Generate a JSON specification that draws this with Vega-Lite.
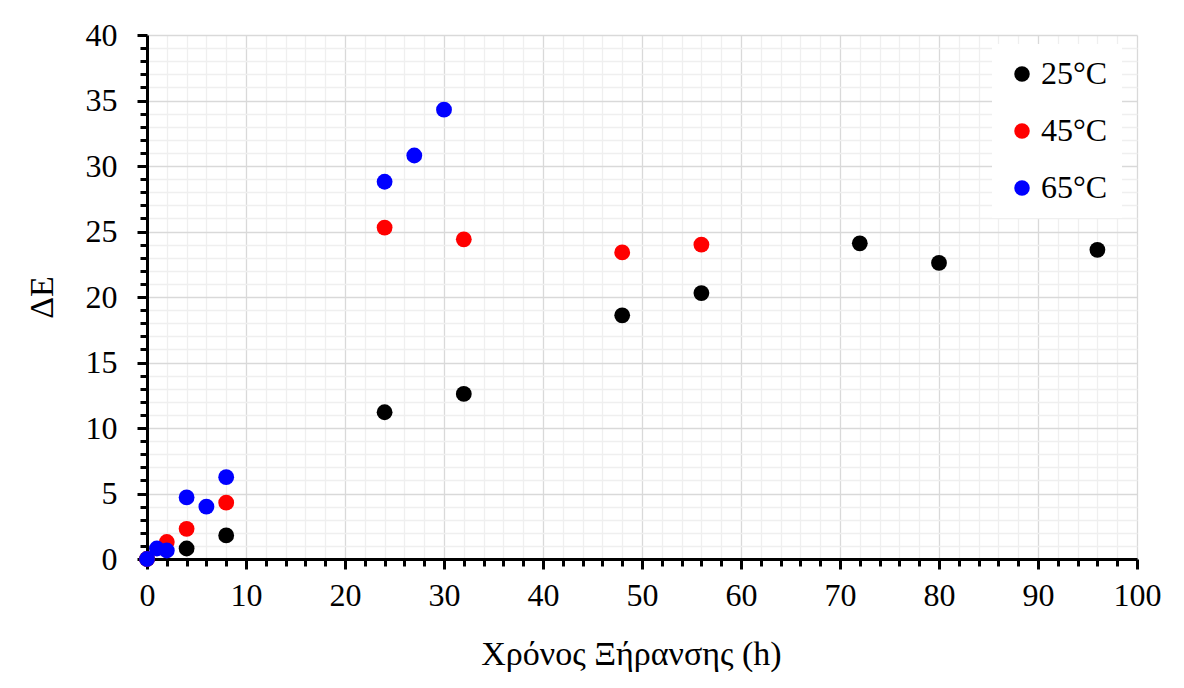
{
  "$schema": "https://vega.github.io/schema/vega-lite/v6.json",
  "autosize": "none",
  "width": 990,
  "height": 524,
  "padding": {"left": 147, "top": 35, "right": 47, "bottom": 129},
  "background": "white",
  "config": {
    "font": "Liberation Serif",
    "view": {"stroke": null},
    "axis": {
      "domainColor": "black",
      "domainWidth": 3,
      "tickColor": "black",
      "tickWidth": 3,
      "labelFont": "Liberation Serif",
      "labelFontSize": 32,
      "labelColor": "black",
      "titleFont": "Liberation Serif",
      "titleFontSize": 34,
      "titleFontWeight": "normal",
      "titleColor": "black",
      "gridWidth": 1.3
    }
  },
  "data": {
    "values": [
      {"t": 0, "dE": 0, "T": "25°C"},
      {"t": 4, "dE": 0.8, "T": "25°C"},
      {"t": 8, "dE": 1.8, "T": "25°C"},
      {"t": 24, "dE": 11.2, "T": "25°C"},
      {"t": 32, "dE": 12.6, "T": "25°C"},
      {"t": 48, "dE": 18.6, "T": "25°C"},
      {"t": 56, "dE": 20.3, "T": "25°C"},
      {"t": 72, "dE": 24.1, "T": "25°C"},
      {"t": 80, "dE": 22.6, "T": "25°C"},
      {"t": 96, "dE": 23.6, "T": "25°C"},
      {"t": 0, "dE": 0, "T": "45°C"},
      {"t": 2, "dE": 1.3, "T": "45°C"},
      {"t": 4, "dE": 2.3, "T": "45°C"},
      {"t": 8, "dE": 4.3, "T": "45°C"},
      {"t": 24, "dE": 25.3, "T": "45°C"},
      {"t": 32, "dE": 24.4, "T": "45°C"},
      {"t": 48, "dE": 23.4, "T": "45°C"},
      {"t": 56, "dE": 24.0, "T": "45°C"},
      {"t": 0, "dE": 0, "T": "65°C"},
      {"t": 1, "dE": 0.8, "T": "65°C"},
      {"t": 2, "dE": 0.65, "T": "65°C"},
      {"t": 4, "dE": 4.7, "T": "65°C"},
      {"t": 6, "dE": 4.0, "T": "65°C"},
      {"t": 8, "dE": 6.25, "T": "65°C"},
      {"t": 24, "dE": 28.8, "T": "65°C"},
      {"t": 27, "dE": 30.8, "T": "65°C"},
      {"t": 30, "dE": 34.3, "T": "65°C"}
    ]
  },
  "mark": {"type": "circle", "size": 250, "opacity": 1},
  "encoding": {
    "x": {
      "field": "t",
      "type": "quantitative",
      "scale": {"domain": [0, 100], "nice": false, "zero": true},
      "axis": {
        "title": "Χρόνος Ξήρανσης (h)",
        "titleX": 484,
        "titleAlign": "center",
        "values": [0,2,4,6,8,10,12,14,16,18,20,22,24,26,28,30,32,34,36,38,40,42,44,46,48,50,52,54,56,58,60,62,64,66,68,70,72,74,76,78,80,82,84,86,88,90,92,94,96,98,100],
        "labelExpr": "datum.value % 10 === 0 ? datum.label : ''",
        "labelOverlap": false,
        "labelFlush": false,
        "labelPadding": 11,
        "titlePadding": 26,
        "tickSize": {"condition": {"test": "datum.value % 10 === 0", "value": 10}, "value": 7},
        "gridColor": {"condition": {"test": "datum.value % 10 === 0", "value": "#d9d9d9"}, "value": "#efefef"}
      }
    },
    "y": {
      "field": "dE",
      "type": "quantitative",
      "scale": {"domain": [0, 40], "nice": false},
      "axis": {
        "title": "ΔE",
        "values": [0,1,2,3,4,5,6,7,8,9,10,11,12,13,14,15,16,17,18,19,20,21,22,23,24,25,26,27,28,29,30,31,32,33,34,35,36,37,38,39,40],
        "labelExpr": "datum.value % 5 === 0 ? datum.label : ''",
        "labelOverlap": false,
        "labelFlush": false,
        "labelPadding": 20,
        "titlePadding": 26,
        "tickSize": {"condition": {"test": "datum.value % 5 === 0", "value": 10}, "value": 7},
        "gridColor": {"condition": {"test": "datum.value % 5 === 0", "value": "#d9d9d9"}, "value": "#efefef"}
      }
    },
    "color": {
      "field": "T",
      "type": "nominal",
      "scale": {"domain": ["25°C", "45°C", "65°C"], "range": ["#000000", "#ff0000", "#0000ff"]},
      "legend": {
        "title": null,
        "orient": "none",
        "legendX": 845,
        "legendY": 9,
        "fillColor": "white",
        "padding": 14,
        "symbolType": "circle",
        "symbolSize": 240,
        "symbolStrokeWidth": 0,
        "symbolOpacity": 1,
        "labelFontSize": 32,
        "labelFont": "Liberation Serif",
        "labelColor": "black",
        "labelOffset": 3,
        "rowPadding": 25
      }
    }
  }
}
